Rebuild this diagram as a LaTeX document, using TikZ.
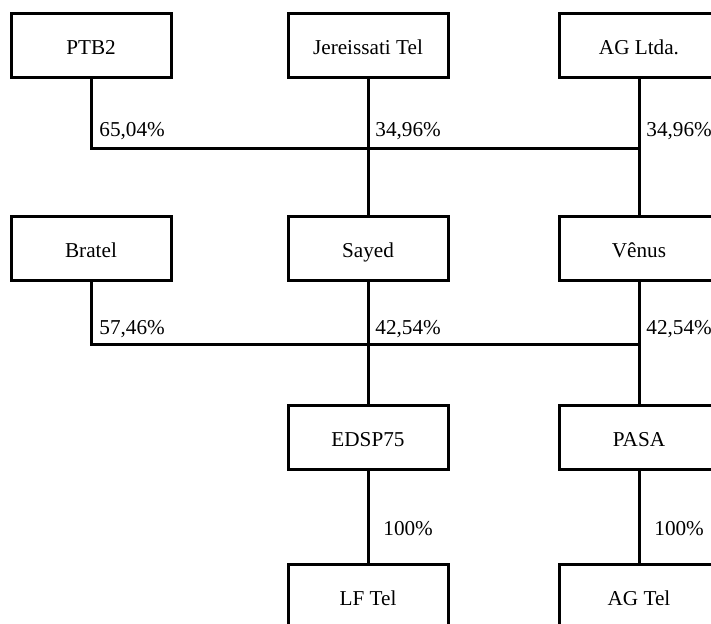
\documentclass[tikz,border=0pt]{standalone}
\usepackage{fontspec}
\setmainfont{Liberation Serif}
\tikzset{
  firma/.style={draw,line width=1.5pt,minimum width=80pt,minimum height=32pt,text height=9.5pt,text depth=0.5pt,font=\fontsize{10.6}{12}\selectfont},
  elo/.style={line width=1.5pt},
  perc/.style={anchor=base west,inner sep=0pt,font=\fontsize{10.6}{12}\selectfont}
}
\begin{document}
\begin{tikzpicture}[x=0.5pt,y=-0.5pt]
\useasboundingbox (0,0) rectangle (711,623);
\clip (0,0) rectangle (711,623);
% empresas
\node[firma] (PTB) at (91,45) {PTB2};
\node[firma] (Jer) at (368,45) {Jereissati Tel};
\node[firma] (AGL) at (639,45) {AG Ltda.};
\node[firma] (Bra) at (91,248.5) {Bratel};
\node[firma] (Say) at (368,248.5) {Sayed};
\node[firma] (Ven) at (639,248.5) {Vênus};
\node[firma] (EDSP) at (368,437) {EDSP75};
\node[firma] (PASA) at (639,437) {PASA};
\node[firma] (LF) at (368,596) {LF Tel};
\node[firma] (AGT) at (639,596) {AG Tel};
% juncoes
\coordinate (J1) at (91,148);
\coordinate (J2) at (639,148);
\coordinate (K1) at (91,344);
\coordinate (K2) at (639,344);
\draw[elo] (PTB.south) -- (J1) -- (J2);
\draw[elo] (Jer.south) -- (Say.north);
\draw[elo] (AGL.south) -- (Ven.north);
\draw[elo] (Bra.south) -- (K1) -- (K2);
\draw[elo] (Say.south) -- (EDSP.north);
\draw[elo] (Ven.south) -- (PASA.north);
\draw[elo] (EDSP.south) -- (LF.north);
\draw[elo] (PASA.south) -- (AGT.north);
% participacoes
\node[perc] (p1) at (99,136) {65,04\%};
\node[perc] (p2) at (375,136) {34,96\%};
\node[perc] (p3) at (646,136) {34,96\%};
\node[perc] (p4) at (99,334) {57,46\%};
\node[perc] (p5) at (375,334) {42,54\%};
\node[perc] (p6) at (646,334) {42,54\%};
\node[perc] (p7) at (383,535) {100\%};
\node[perc] (p8) at (654,535) {100\%};
\end{tikzpicture}
\end{document}
